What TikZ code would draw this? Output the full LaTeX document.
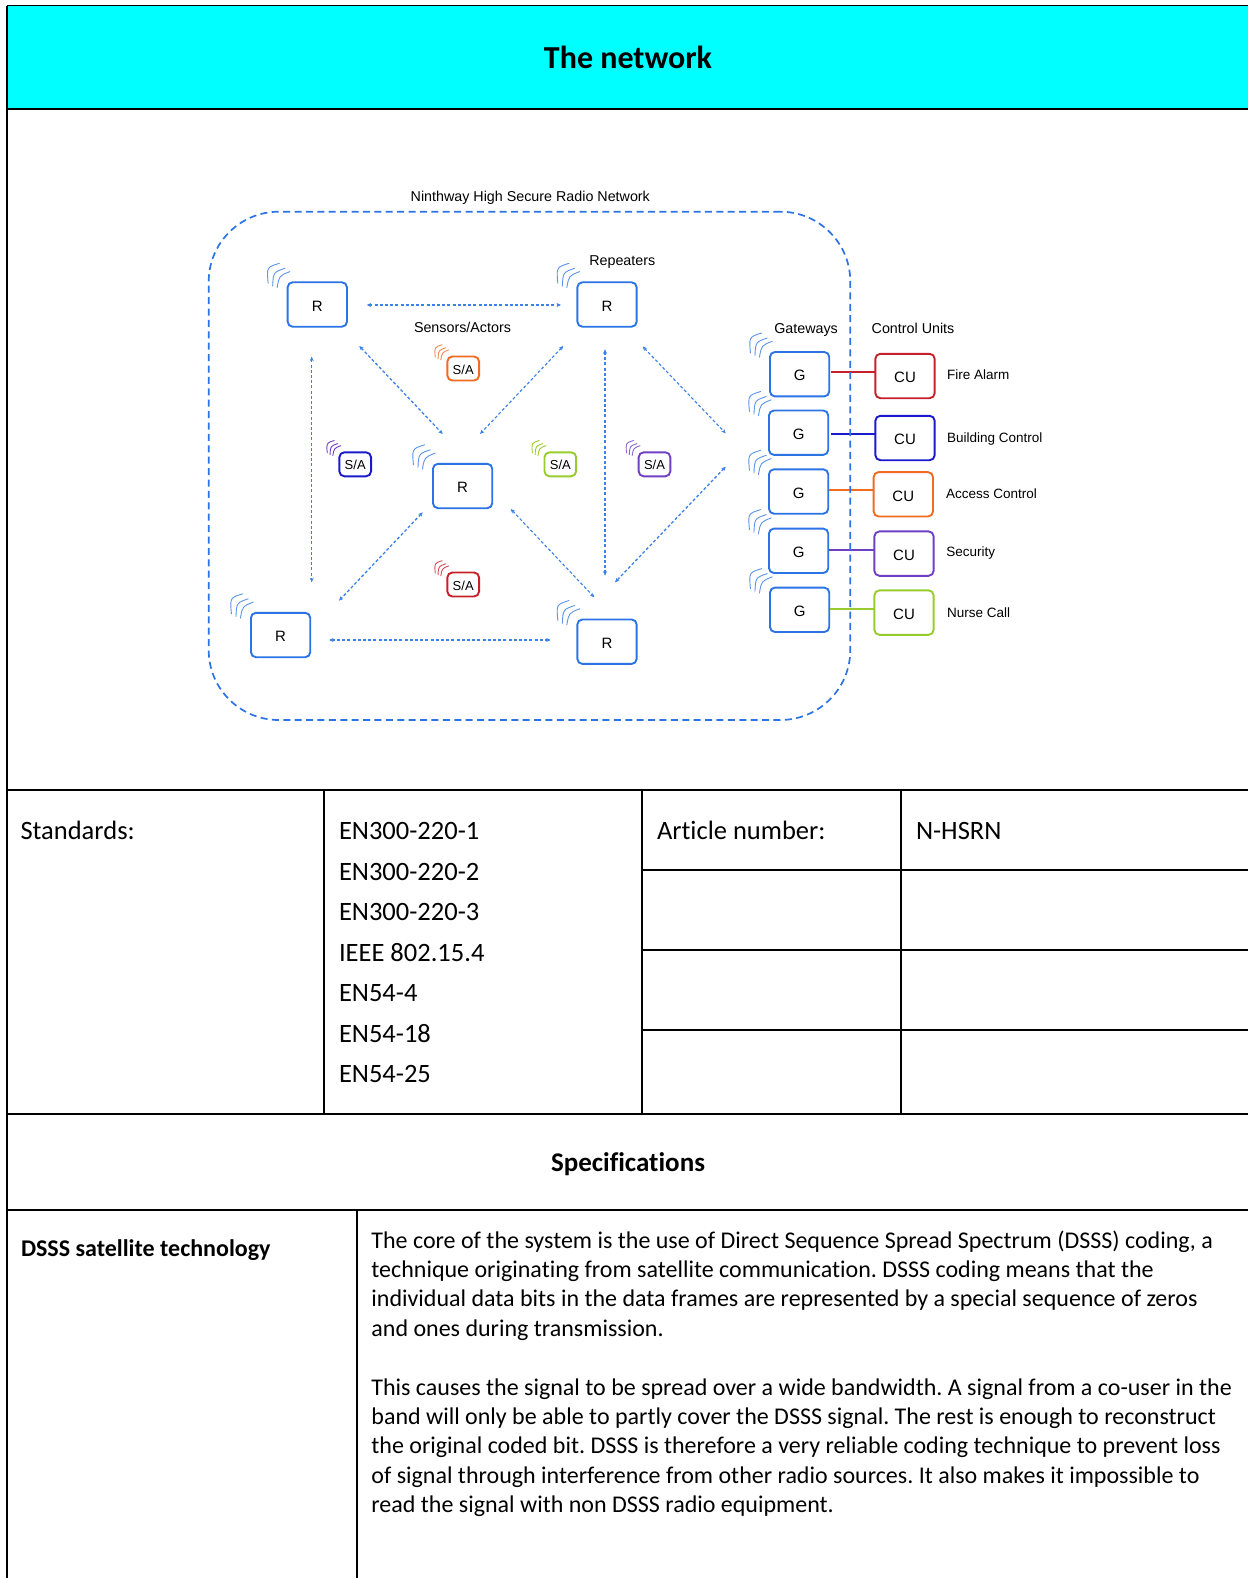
\documentclass[tikz,border=0pt]{standalone}
\usepackage{fontspec}
\setmainfont[Ligatures=NoCommon]{Carlito}
\newfontfamily\diagfont{Liberation Sans}
\usetikzlibrary{arrows.meta}
\AtBeginDocument{\frenchspacing}
\definecolor{netblue}{HTML}{2C74E6}
\definecolor{linkblue}{HTML}{3C80EA}
\definecolor{arcblue}{HTML}{5C94E8}
\definecolor{cured}{HTML}{C8202A}
\definecolor{cublue}{HTML}{1A1ACC}
\definecolor{cuorange}{HTML}{F26B21}
\definecolor{cupurple}{HTML}{7040C4}
\definecolor{cugreen}{HTML}{9ACB2C}
\definecolor{headcyan}{HTML}{00FFFF}
\newcommand{\wifi}[3]{%
  \begin{scope}[shift={(#1.north west)},scale=#2]
    \draw[#3,line width=.9pt,line cap=round]
      (-8.3,-19) .. controls (-21,-15) .. (-19.5,1)
      (-2.7,-14) .. controls (-14.3,-10) .. (-15,3.7)
      (2.3,-10.7) .. controls (-8.5,-6.5) .. (-10.5,5.3);
  \end{scope}}
\newcommand{\low}[1]{\raisebox{-6.7pt}[0pt][0pt]{#1}}
\newcommand{\lowsa}[1]{\raisebox{-5.6pt}[0pt][0pt]{#1}}
\tikzset{
  x=1pt,y=-1pt,
  box/.style={draw=#1,line width=1.9pt,rounded corners=5pt,inner sep=0pt,outer sep=0pt,fill=white,
    font=\diagfont\fontsize{15}{15}\selectfont,text=black},
  bigbox/.style={box=#1,minimum width=59.3pt,minimum height=44.4pt},
  sabox/.style={box=#1,minimum width=31.7pt,minimum height=24pt,font=\diagfont\fontsize{13}{14}\selectfont},
  dlabel/.style={font=\diagfont\fontsize{14.3}{15}\selectfont,text=black,inner sep=0pt,outer sep=0pt},
  dsmall/.style={dlabel,font=\diagfont\fontsize{13.5}{15}\selectfont},
  rule/.style={line width=1.9pt,black},
  body/.style={font=\fontsize{26.5}{29}\selectfont,anchor=base west,inner sep=0pt,outer sep=0pt,text=black},
  para/.style={font=\fontsize{24}{29}\selectfont,anchor=base west,inner sep=0pt,outer sep=0pt,text=black},
  headb/.style={font=\bfseries\fontsize{24}{29}\selectfont,anchor=base,inner sep=0pt,outer sep=0pt,text=black},
  link/.style={draw=linkblue,line width=1.1pt,dash pattern=on 3pt off 2.2pt,{Stealth[length=4.5pt,width=4pt]}-{Stealth[length=4.5pt,width=4pt]}},
  wire/.style={line width=1.9pt,draw=#1},
}
\begin{document}
\begin{tikzpicture}
\useasboundingbox (0,0) rectangle (1248,1578);
\fill[white] (0,0) rectangle (1248,1578);
\fill[headcyan] (7,6) rectangle (1248,108.7);
% table rules
\draw[rule,line width=1.5pt] (6.5,5.7) -- (1248,5.7);
\draw[rule] (7,5.7) -- (7,1578);
\draw[rule] (7,108.7) -- (1248,108.7);
\draw[rule] (7,790) -- (1248,790);
\draw[rule] (7,1114) -- (1248,1114);
\draw[rule] (7,1210) -- (1248,1210);
\draw[rule] (324,790) -- (324,1114);
\draw[rule] (642,790) -- (642,1114);
\draw[rule] (901,790) -- (901,1114);
\draw[rule] (357,1210) -- (357,1578);
\draw[rule] (642,870) -- (1248,870);
\draw[rule] (642,950) -- (1248,950);
\draw[rule] (642,1030) -- (1248,1030);
% header
\node[headb,font=\bfseries\fontsize{32}{34}\selectfont] (title) at (628,68.5) {The network};
% standards
\node[body] (std) at (20.5,839) {Standards:};
\node[body] (s1) at (339,839) {EN300-220-1};
\node[body] (s2) at (339,880.2) {EN300-220-2};
\node[body] (s3) at (339,920.5) {EN300-220-3};
\node[body] (s4) at (339,961.3) {IEEE 802.15.4};
\node[body] (s5) at (339,1001) {EN54-4};
\node[body] (s6) at (339,1042) {EN54-18};
\node[body] (s7) at (339,1082.8) {EN54-25};
\node[body] (art) at (657,839) {Article number:};
\node[body] (artn) at (916,839) {N-HSRN};
\node[headb,font=\bfseries\fontsize{27}{29}\selectfont] (spec) at (628,1171) {Specifications};
\node[headb,anchor=base west] (dsss) at (21,1256.5) {DSSS satellite technology};
% paragraphs
\node[para] (p1) at (371.4,1248) {The core of the system is the use of Direct Sequence Spread Spectrum (DSSS) coding, a};
\node[para] (p2) at (371.4,1277.4) {technique originating from satellite communication. DSSS coding means that the};
\node[para] (p3) at (371.4,1306.8) {individual data bits in the data frames are represented by a special sequence of zeros};
\node[para] (p4) at (371.4,1336.1) {and ones during transmission.};
\node[para] (p5) at (371.4,1395) {This causes the signal to be spread over a wide bandwidth. A signal from a co-user in the};
\node[para] (p6) at (371.4,1424.3) {band will only be able to partly cover the DSSS signal. The rest is enough to reconstruct};
\node[para] (p7) at (371.4,1453.6) {the original coded bit. DSSS is therefore a very reliable coding technique to prevent loss};
\node[para] (p8) at (371.4,1483) {of signal through interference from other radio sources. It also makes it impossible to};
\node[para] (p9) at (371.4,1512.3) {read the signal with non DSSS radio equipment.};
% boxes
\node[bigbox=netblue] (r1) at (317.3,304.5) {\low{R}};
\node[bigbox=netblue] (r2) at (607,304.5) {\low{R}};
\node[bigbox=netblue] (r3) at (462.6,486) {\low{R}};
\node[bigbox=netblue] (r4) at (280.6,635) {\low{R}};
\node[bigbox=netblue] (r5) at (607,641.7) {\low{R}};
\node[bigbox=netblue] (g1) at (799.6,374.2) {\low{G}};
\node[bigbox=netblue] (g2) at (798.6,432.7) {\low{G}};
\node[bigbox=netblue] (g3) at (798.6,491.5) {\low{G}};
\node[bigbox=netblue] (g4) at (798.6,550.8) {\low{G}};
\node[bigbox=netblue] (g5) at (799.6,609.8) {\low{G}};
\node[bigbox=cured] (c1) at (905,376) {\low{CU}};
\node[bigbox=cublue] (c2) at (905,438) {\low{CU}};
\node[bigbox=cuorange] (c3) at (903.3,494.3) {\low{CU}};
\node[bigbox=cupurple] (c4) at (904,553.6) {\low{CU}};
\node[bigbox=cugreen] (c5) at (904,612.6) {\low{CU}};
\node[sabox=cuorange] (sa1) at (463.2,368.5) {\lowsa{S/A}};
\node[sabox=cublue] (sa2) at (355.2,464.3) {\lowsa{S/A}};
\node[sabox=cugreen] (sa3) at (560.3,464.3) {\lowsa{S/A}};
\node[sabox=cupurple] (sa4) at (654.5,464.3) {\lowsa{S/A}};
\node[sabox=cured] (sa5) at (463.2,584.5) {\lowsa{S/A}};
\coordinate (w1) at (831,371.7);
\coordinate (w2) at (831,433.7);
\coordinate (w3) at (828.5,490);
\coordinate (w4) at (828.5,550);
\coordinate (w5) at (829.5,609.3);
\draw[wire=cured] (w1) -- (w1 -| c1.west);
\draw[wire=cublue] (w2) -- (w2 -| c2.west);
\draw[wire=cuorange] (w3) -- (w3 -| c3.west);
\draw[wire=cupurple] (w4) -- (w4 -| c4.west);
\draw[wire=cugreen] (w5) -- (w5 -| c5.west);
% network border
\node[draw=netblue,line width=1.7pt,dash pattern=on 7pt off 4.4pt,rounded corners=70pt,
  minimum width=641.6pt,minimum height=508.3pt,inner sep=0pt,outer sep=0pt] (net) at (529.5,465.85) {};
% wifi
\foreach \n in {r1,r2,r3,r4,r5,g1,g2,g3,g4,g5}{\wifi{\n}{1}{arcblue}}
\wifi{sa1}{.62}{cuorange!80}
\wifi{sa2}{.62}{cupurple}
\wifi{sa3}{.62}{cugreen}
\wifi{sa4}{.62}{cupurple!80}
\wifi{sa5}{.62}{cured!80}
% links
\coordinate (a1) at (366.7,305); \coordinate (a2) at (561,305);
\coordinate (b1) at (311.7,356.7); \coordinate (b2) at (311.7,582.3);
\coordinate (d1) at (359.3,346); \coordinate (d2) at (442.7,434);
\coordinate (e1) at (563.3,346); \coordinate (e2) at (480,434);
\coordinate (f1) at (605,349.3); \coordinate (f2) at (605,575.7);
\coordinate (h1) at (642.7,346.5); \coordinate (h2) at (725.7,433.3);
\coordinate (i1) at (725.7,466.7); \coordinate (i2) at (615,582.3);
\coordinate (j1) at (422.7,512.3); \coordinate (j2) at (339,600.7);
\coordinate (k1) at (510.7,509); \coordinate (k2) at (594.3,597.3);
\coordinate (l1) at (329,640); \coordinate (l2) at (550.7,640);
\draw[link] (a1) -- (a2);
\draw[link] (b1) -- (b2);
\draw[link,line width=1.3pt] (d1) -- (d2);
\draw[link] (e1) -- (e2);
\draw[link] (f1) -- (f2);
\draw[link] (h1) -- (h2);
\draw[link,line width=1.3pt] (i1) -- (i2);
\draw[link,line width=1.3pt] (j1) -- (j2);
\draw[link] (k1) -- (k2);
\draw[link] (l1) -- (l2);
% labels
\node[dlabel,anchor=west] (t0) at (410.7,198) {Ninthway High Secure Radio Network};
\node[dlabel,anchor=west] (t1) at (589.3,262.3) {Repeaters};
\node[dlabel,anchor=west] (t2) at (414,327.7) {Sensors/Actors};
\node[dlabel,anchor=west] (t3) at (774.3,329.7) {Gateways};
\node[dlabel,anchor=west] (t4) at (871.7,328.7) {Control Units};
\node[dsmall,anchor=west] (t5) at (947,375) {Fire Alarm};
\node[dsmall,anchor=west] (t6) at (947,439.3) {Building Control};
\node[dsmall,anchor=west] (t7) at (946,494) {Access Control};
\node[dsmall,anchor=west] (t8) at (946.3,553) {Security};
\node[dsmall,anchor=west] (t9) at (947,613) {Nurse Call};
\end{tikzpicture}
\end{document}
